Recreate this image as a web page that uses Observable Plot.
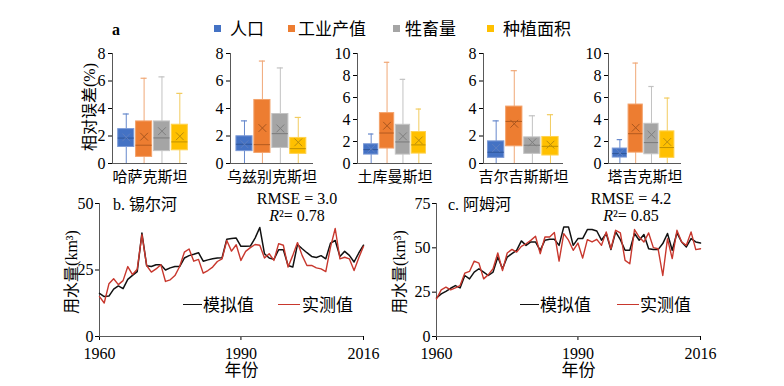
<!DOCTYPE html>
<html><head><meta charset="utf-8">
<script src="https://cdn.jsdelivr.net/npm/d3@7"></script>
<script src="https://cdn.jsdelivr.net/npm/@observablehq/plot@0.6"></script>
<style>
body{margin:0;background:#fff;}
#root{position:relative;width:784px;height:386px;overflow:hidden;background:#fff;font-family:'Liberation Serif','Noto Sans CJK SC',serif;color:#000;}
#root svg text{font-family:'Liberation Serif','Noto Sans CJK SC',serif !important;}
#root svg g[aria-label*="axis"], #root svg g[aria-label*="axis"] text{font-size:16px !important;font-family:'Liberation Serif',serif !important;}
.abs{position:absolute;white-space:nowrap;line-height:1;}
.c{transform:translate(-50%,-50%);}
.v{transform:translate(-50%,-50%) rotate(-90deg);}
.m{transform:translate(0,-50%);}
svg{overflow:visible;}
</style>
</head><body><div id="root"></div>
<script>
// ---------- DATA ----------
const countries = ["哈萨克斯坦","乌兹别克斯坦","土库曼斯坦","吉尔吉斯斯坦","塔吉克斯坦"];
const factors = ["人口","工业产值","牲畜量","种植面积"];
const yMaxes = [8, 8, 10, 8, 10];
// per country: [人口, 工业产值, 牲畜量, 种植面积]
const whiskerLow = [
  [0,0,0,0],[0,0,0,0],[0,0,0,0],[0,0,0,0],[0,0,0,0]
];
const quartile1 = [
  [1.2,0.48,0.9,0.96],
  [0.9,0.77,1.13,0.7],
  [0.81,1.36,0.81,0.9],
  [0.41,1.25,0.7,0.58],
  [0.54,0.99,0.84,0.51]
];
const medians = [
  [1.85,1.33,1.86,1.57],
  [1.4,1.37,2.17,1.08],
  [1.26,2.77,1.96,1.69],
  [0.82,3.06,1.33,1.25],
  [0.9,2.71,1.9,1.45]
];
const quartile3 = [
  [2.5,3.06,3.06,2.82],
  [1.98,4.62,3.6,1.86],
  [1.75,4.58,3.52,2.86],
  [1.61,4.14,1.9,1.93],
  [1.36,5.36,3.61,2.92]
];
const whiskerHigh = [
  [3.6,6.2,6.3,5.1],
  [3.1,7.45,6.95,3.35],
  [2.68,9.2,7.65,4.95],
  [3.1,6.75,3.47,3.55],
  [2.17,9.13,7.0,5.95]
];
const means = [
  [1.9,1.95,2.35,1.98],
  [1.4,2.58,2.55,1.54],
  [1.33,3.43,2.47,2.1],
  [1.13,2.89,1.54,1.37],
  [0.96,3.25,2.62,1.96]
];

const years = [1960,1961,1962,1963,1964,1965,1966,1967,1968,1969,1970,1971,1972,1973,1974,1975,1976,1977,1978,1979,1980,1981,1982,1983,1984,1985,1986,1987,1988,1989,1990,1991,1992,1993,1994,1995,1996,1997,1998,1999,2000,2001,2002,2003,2004,2005,2006,2007,2008,2009,2010,2011,2012,2013,2014,2015,2016];
const syrSimulated = [16.2,15,15.2,17.8,19,18,21.5,23,24.4,38.9,26.6,26.3,27,27,25,25.8,26.3,26.3,29.5,30.4,30.9,31.5,28.3,28.8,29.2,29.5,29.6,36.6,36.8,37,33.9,33.9,34,37,41,31.1,29.5,29,32.6,32.6,26.7,26.1,34.6,33,31.5,30.1,29.7,30.4,29.2,35.1,36.1,30.1,32,30.5,28,31.4,34.3];
const syrObserved = [15,12.6,19.8,21.7,19.5,21,26.3,23.3,25.3,38.3,26.7,24.2,25.4,27,20.7,21.3,22.9,26.3,31.7,32.9,28.3,29,23.8,24.8,26.1,28.2,29.2,36.1,32.1,34.5,28.6,32,33.4,34.6,34.3,29.5,31.1,28.6,34.9,34.3,26.1,30.5,35.3,30.4,26.7,26.7,25.8,25.4,24.4,33.6,40.6,29.2,29.8,29.2,24.8,29.6,33.9];
const amuSimulated = [21.7,24,25.5,27.2,28.7,27.4,34.4,32.5,36.3,38.2,36.3,34.4,36.3,44.8,38.2,44.8,46.7,48.6,53.9,51.4,53.3,53.3,48.6,54.3,54.8,54.8,51.4,61.8,61.8,51.4,55.2,55.2,60.3,60.3,59.5,54.3,58.1,49,59,54.6,48.6,48.6,58.1,54.3,57.5,49.5,49,49,52.4,58.1,48.6,58.4,53.3,50.5,55.2,53.3,52.7];
const amuObserved = [21.2,26.3,27.8,26.3,27.4,28.7,35.7,36.7,42.5,41.4,32.5,34.9,38.2,47.1,37.2,47.1,49.1,47.6,50.8,52.3,54.2,56.5,46.7,56.1,56.1,58.6,42.5,58,54.3,48.6,52.7,44.2,54.6,53.3,54.8,51.4,59,49.5,59.9,58.4,42.9,41,60.3,56.1,53.3,58.4,50.1,49.5,34.4,55.2,43.9,59.9,53.3,51.4,59,49,49.5];

// ---------- STYLE / LAYOUT ----------
const FONT = "'Liberation Serif','Noto Sans CJK SC',serif";
const SVG_STYLE = "font-family:'Liberation Serif','Noto Sans CJK SC',serif;font-size:16px;background:transparent;color:#000;overflow:visible;";
const boxFill = ["#4472C4","#ED7D31","#A5A5A5","#FFC000"];
const boxStroke = ["#7C9AD6","#F3A26B","#C4C4C4","#FFD24D"];
const whiskerColor = ["#6688CC","#F0A877","#C2C2C2","#F2CC60"];
const medianColor = ["#2F5597","#B35A1F","#7A7A7A","#BF9000"];
const meanColor = ["#5F7FBF","#A9561E","#7F7F7F","#B88C0E"];
const boxLayout = [
  {axis:112, right:187, lo:-0.77, hi:3.43},
  {axis:230, right:313, lo:-0.78, hi:3.85},
  {axis:357, right:432, lo:-0.86, hi:3.86},
  {axis:483, right:563, lo:-0.70, hi:3.72},
  {axis:608, right:681, lo:-0.72, hi:3.90}
];
const AXIS = "#595959";

const root = document.getElementById("root");
function place(node, left, top) {
  const d = document.createElement("div");
  d.className = "abs";
  d.style.left = left + "px"; d.style.top = top + "px";
  d.appendChild(node);
  root.appendChild(d);
}
function label(html, x, y, cls, size, extra) {
  const d = document.createElement("div");
  d.className = "abs " + (cls || "");
  d.style.left = x + "px"; d.style.top = y + "px";
  d.style.fontSize = (size || 16) + "px";
  if (extra) Object.assign(d.style, extra);
  d.innerHTML = html;
  root.appendChild(d);
  return d;
}

// ---------- BOX PANELS ----------
countries.forEach((country, c) => {
  const L = boxLayout[c];
  const ML = 30, MR = 4;
  const rows = factors.map((f, j) => ({
    i: j, factor: f,
    lo: whiskerLow[c][j], q1: quartile1[c][j], med: medians[c][j],
    q3: quartile3[c][j], hi: whiskerHigh[c][j], mean: means[c][j],
    fill: boxFill[j], stroke: boxStroke[j], wc: whiskerColor[j], mc: medianColor[j], xc: meanColor[j]
  }));
  const ymax = yMaxes[c];
  const ticks = d3.range(0, ymax + 1, 2);
  const plot = Plot.plot({
    width: ML + (L.right - L.axis) + MR,
    height: 150,
    marginLeft: ML, marginRight: MR, marginTop: 13, marginBottom: 27,
    style: SVG_STYLE,
    color: {type: "identity"},
    x: {domain: [L.lo, L.hi], axis: null},
    y: {domain: [0, ymax], ticks, tickSize: 4, tickPadding: 3, label: null, tickFormat: d => String(d)},
    marks: [
      Plot.ruleX(rows, {x: "i", y1: "lo", y2: "hi", stroke: "wc", strokeWidth: 1}),
      Plot.ruleY(rows, {y: "hi", x1: d => d.i - 0.17, x2: d => d.i + 0.17, stroke: "wc", strokeWidth: 1.2}),
      Plot.rect(rows, {x1: d => d.i - 0.45, x2: d => d.i + 0.45, y1: "q1", y2: "q3", fill: "fill", stroke: "stroke", strokeWidth: 1}),
      Plot.ruleY(rows, {y: "med", x1: d => d.i - 0.45, x2: d => d.i + 0.45, stroke: "mc", strokeWidth: 1}),
      Plot.dot(rows, {x: "i", y: "mean", symbol: "times", r: 3.6, stroke: "xc", strokeWidth: 1}),
      Plot.ruleX([L.lo], {stroke: AXIS}),
      Plot.ruleY([0], {stroke: AXIS}),
      Plot.text([country], {frameAnchor: "bottom", dy: 18, fontSize: 15, fill: "#000", fontFamily: FONT})
    ]
  });
  place(plot, L.axis - ML, 40);
});

// ---------- LINE PANELS ----------
function linePlot(sim, obs, ymax, yticks) {
  return Plot.plot({
    width: 340, height: 196,
    marginLeft: 59, marginRight: 17, marginTop: 13, marginBottom: 50,
    style: SVG_STYLE,
    x: {domain: [1960, 2016], ticks: [1960, 1990, 2016], tickFormat: d => String(d), tickSize: 4, tickPadding: 7, label: null},
    y: {domain: [0, ymax], ticks: yticks, tickSize: 4, tickPadding: 2, label: null, tickFormat: d => String(d)},
    marks: [
      Plot.ruleX([1960], {stroke: AXIS}),
      Plot.ruleY([0], {stroke: AXIS}),
      Plot.line(years, {x: d => d, y: (d, i) => sim[i], stroke: "#111111", strokeWidth: 1.5}),
      Plot.line(years, {x: d => d, y: (d, i) => obs[i], stroke: "#C8372D", strokeWidth: 1.4}),
      Plot.text(["年份"], {frameAnchor: "bottom", dy: 39, dx: 10, fontSize: 17, fill: "#000", fontFamily: FONT})
    ]
  });
}
place(linePlot(syrSimulated, syrObserved, 50, [0, 25, 50]), 40, 190);
place(linePlot(amuSimulated, amuObserved, 75, [0, 25, 50, 75]), 377, 190);

// ---------- TEXT / LEGENDS ----------
label("a", 112, 30, "m", 16, {fontWeight: "bold"});
const legendItems = [
  {sq: 214, tx: 230}, {sq: 288, tx: 298}, {sq: 393, tx: 405}, {sq: 487, tx: 503}
];
factors.forEach((f, j) => {
  const s = document.createElement("div");
  s.className = "abs";
  Object.assign(s.style, {left: legendItems[j].sq + "px", top: "25px", width: "7px", height: "7px", background: boxFill[j]});
  root.appendChild(s);
  label(f, legendItems[j].tx, 29, "m", 17);
});
label("相对误差(%)", 90, 107, "v", 16);
label("用水量(km³)", 72, 272, "v", 16);
label("用水量(km³)", 400, 272, "v", 16);

label("b. 锡尔河", 113, 205, "m", 16);
label("c. 阿姆河", 448, 205, "m", 16);
label("RMSE = 3.0", 297, 199, "c", 16);
label("<i>R</i>²= 0.78", 297, 216, "c", 16);
label("RMSE = 4.2", 631, 199, "c", 16);
label("<i>R</i>²= 0.85", 631, 216, "c", 16);

function lineLegend(x0, seg, txt, color, name) {
  const s = document.createElement("div");
  s.className = "abs";
  Object.assign(s.style, {left: x0 + "px", top: "304px", width: seg + "px", height: "0", borderTop: "1.5px solid " + color});
  root.appendChild(s);
  label(name, txt, 305, "m", 17);
}
lineLegend(183, 19, 203, "#111111", "模拟值");
lineLegend(278, 22, 302, "#C8372D", "实测值");
lineLegend(520, 19, 540, "#111111", "模拟值");
lineLegend(617, 22, 640, "#C8372D", "实测值");
</script>
</body></html>
